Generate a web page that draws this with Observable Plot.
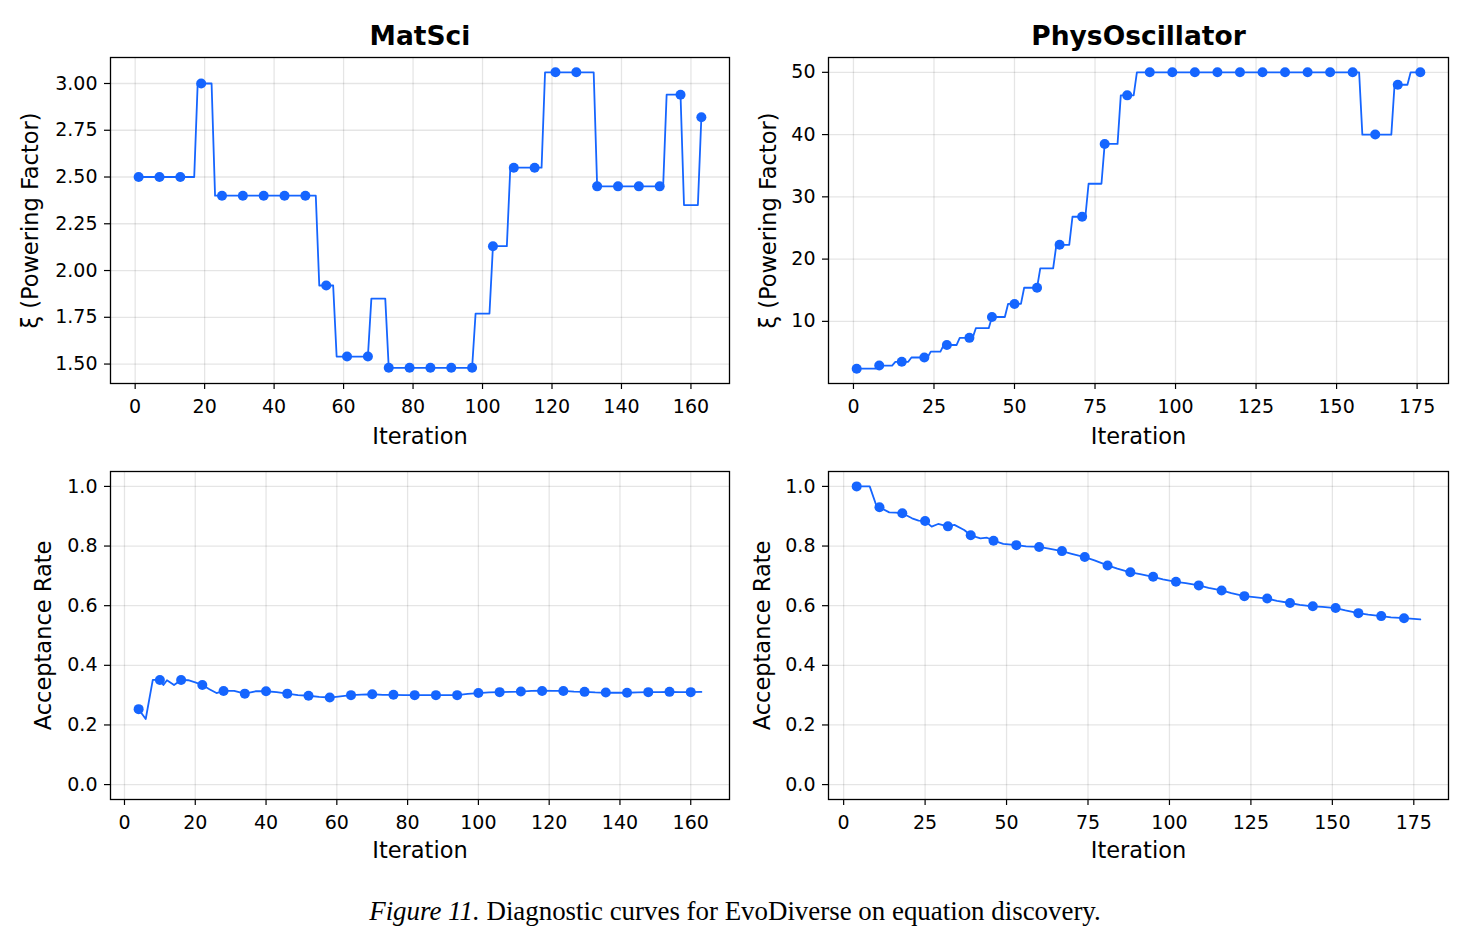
<!DOCTYPE html>
<html>
<head>
<meta charset="utf-8">
<script src="https://cdn.jsdelivr.net/npm/d3@7"></script>
<script src="https://cdn.jsdelivr.net/npm/@observablehq/plot@0.6"></script>
<style>
  body { margin: 0; background: #fff; width: 1470px; height: 942px; position: relative; overflow: hidden; }
  .panel { position: absolute; }
  .panel svg { overflow: visible; background: transparent !important; }
  #caption { position: absolute; left: 0; width: 1470px; top: 895px; text-align: center;
             font-family: "Liberation Serif", serif; font-size: 26.9px; line-height: 32px; color: #000; z-index: 5; }
</style>
</head>
<body>
<div id="tl" class="panel" style="left:0px; top:0px"></div>
<div id="tr" class="panel" style="left:735px; top:0px"></div>
<div id="bl" class="panel" style="left:0px; top:460px"></div>
<div id="br" class="panel" style="left:735px; top:460px"></div>
<div id="caption"><i>Figure 11.</i> Diagnostic curves for EvoDiverse on equation discovery.</div>
<script>
// ---- MatSci: powering factor ξ per iteration (step changes) ----
const matsciXiLine = [
  [1, 2.5], [17, 2.5], [18, 3.0], [22, 3.0], [23, 2.4], [52, 2.4], [53, 1.92], [57, 1.92],
  [58, 1.54], [67, 1.54], [68, 1.85], [72, 1.85], [73, 1.48], [97, 1.48], [98, 1.77],
  [102, 1.77], [103, 2.13], [107, 2.13], [108, 2.55], [117, 2.55], [118, 3.06], [132, 3.06],
  [133, 2.45], [152, 2.45], [153, 2.94], [157, 2.94], [158, 2.35], [162, 2.35], [163, 2.82]
];
const matsciXiMarkers = [
  [1, 2.5], [7, 2.5], [13, 2.5], [19, 3.0], [25, 2.4], [31, 2.4], [37, 2.4], [43, 2.4],
  [49, 2.4], [55, 1.92], [61, 1.54], [67, 1.54], [73, 1.48], [79, 1.48], [85, 1.48],
  [91, 1.48], [97, 1.48], [103, 2.13], [109, 2.55], [115, 2.55], [121, 3.06], [127, 3.06],
  [133, 2.45], [139, 2.45], [145, 2.45], [151, 2.45], [157, 2.94], [163, 2.82]
];

// ---- PhysOscillator: powering factor ξ per iteration ----
const physXiLine = [
  [1, 2.4], [7, 2.4], [8, 2.9], [12, 2.9], [13, 3.5], [17, 3.5], [18, 4.2], [23, 4.2],
  [24, 5.15], [27, 5.15], [28, 6.2], [32, 6.2], [33, 7.35], [37, 7.35], [38, 8.9], [42, 8.9],
  [43, 10.7], [47, 10.7], [48, 12.8], [52, 12.8], [53, 15.4], [57, 15.4], [58, 18.5],
  [62, 18.5], [63, 22.3], [67, 22.3], [68, 26.8], [72, 26.8], [73, 32.1], [77, 32.1],
  [78, 38.5], [82, 38.5], [83, 46.3], [87, 46.3], [88, 50], [157, 50], [158, 40], [167, 40],
  [168, 48], [172, 48], [173, 50], [176, 50]
];
const physXiMarkers = [
  [1, 2.4], [8, 2.9], [15, 3.5], [22, 4.2], [29, 6.2], [36, 7.35], [43, 10.7], [50, 12.8],
  [57, 15.4], [64, 22.3], [71, 26.8], [78, 38.5], [85, 46.3], [92, 50], [99, 50], [106, 50],
  [113, 50], [120, 50], [127, 50], [134, 50], [141, 50], [148, 50], [155, 50], [162, 40],
  [169, 48], [176, 50]
];

// ---- MatSci: acceptance rate ----
const matsciAccLine = [
  [4, 0.253], [6, 0.220], [8, 0.351], [10, 0.351], [11, 0.334], [12, 0.350], [14, 0.334],
  [16, 0.351], [18, 0.350], [20, 0.343], [22, 0.334], [24, 0.320], [26, 0.307], [28, 0.314],
  [31, 0.314], [34, 0.305], [37, 0.313], [40, 0.313], [43, 0.310], [46, 0.305], [49, 0.300],
  [52, 0.298], [55, 0.294], [58, 0.292], [61, 0.296], [64, 0.300], [67, 0.302], [70, 0.303],
  [73, 0.301], [76, 0.301], [79, 0.300], [82, 0.300], [85, 0.300], [88, 0.300], [91, 0.300],
  [94, 0.300], [97, 0.304], [100, 0.307], [103, 0.309], [106, 0.310], [109, 0.311],
  [112, 0.312], [115, 0.314], [118, 0.315], [121, 0.314], [124, 0.314], [127, 0.312],
  [130, 0.311], [133, 0.309], [136, 0.308], [139, 0.308], [142, 0.308], [145, 0.309],
  [148, 0.310], [151, 0.310], [154, 0.311], [157, 0.310], [160, 0.310], [163, 0.311]
];
const matsciAccMarkers = [
  [4, 0.253], [10, 0.351], [16, 0.351], [22, 0.334], [28, 0.314], [34, 0.305], [40, 0.313],
  [46, 0.305], [52, 0.298], [58, 0.292], [64, 0.300], [70, 0.303], [76, 0.301], [82, 0.300],
  [88, 0.300], [94, 0.300], [100, 0.307], [106, 0.310], [112, 0.312], [118, 0.314],
  [124, 0.314], [130, 0.311], [136, 0.309], [142, 0.308], [148, 0.310], [154, 0.311],
  [160, 0.310]
];

// ---- PhysOscillator: acceptance rate ----
const physAccLine = [
  [4, 1.0], [8, 1.0], [10, 0.937], [11, 0.930], [14, 0.913], [16, 0.912], [18, 0.910],
  [21, 0.893], [23, 0.885], [25, 0.884], [27, 0.865], [29, 0.874], [32, 0.866], [34, 0.871],
  [37, 0.854], [39, 0.836], [42, 0.826], [44, 0.828], [46, 0.818], [49, 0.807], [53, 0.803],
  [56, 0.799], [60, 0.797], [63, 0.791], [67, 0.783], [70, 0.774], [74, 0.763], [77, 0.752],
  [81, 0.735], [84, 0.724], [88, 0.712], [91, 0.706], [95, 0.697], [98, 0.688], [102, 0.680],
  [105, 0.676], [109, 0.668], [112, 0.660], [116, 0.651], [119, 0.642], [123, 0.632],
  [126, 0.629], [130, 0.624], [133, 0.616], [137, 0.609], [140, 0.603], [144, 0.598],
  [147, 0.596], [151, 0.592], [154, 0.584], [158, 0.575], [161, 0.570], [165, 0.565],
  [168, 0.561], [172, 0.558], [177, 0.554]
];
const physAccMarkers = [
  [4, 1.0], [11, 0.930], [18, 0.910], [25, 0.884], [32, 0.866], [39, 0.836], [46, 0.818],
  [53, 0.803], [60, 0.797], [67, 0.783], [74, 0.763], [81, 0.735], [88, 0.712], [95, 0.697],
  [102, 0.680], [109, 0.668], [116, 0.651], [123, 0.632], [130, 0.624], [137, 0.609],
  [144, 0.598], [151, 0.592], [158, 0.575], [165, 0.565], [172, 0.558]
];

// Tick positions
const ticks160 = [0, 20, 40, 60, 80, 100, 120, 140, 160];
const ticks175 = [0, 25, 50, 75, 100, 125, 150, 175];
const matsciXiTicks = [1.5, 1.75, 2.0, 2.25, 2.5, 2.75, 3.0];
const physXiTicks = [10, 20, 30, 40, 50];
const accTicks = [0, 0.2, 0.4, 0.6, 0.8, 1.0];

const BLUE = "#1565ff";
const FONT = "DejaVu Sans";
const TICK_FONT = 19;
const LABEL_FONT = 22.5;

function panel(o) {
  const chart = Plot.plot({
    width: o.width, height: o.height,
    marginLeft: o.ml, marginRight: o.mr, marginTop: o.mt, marginBottom: o.mb,
    style: { fontFamily: FONT, fontSize: TICK_FONT + "px", color: "#000", background: "transparent" },
    x: { domain: o.xDomain },
    y: { domain: o.yDomain },
    marks: [
      Plot.gridX(o.xTicks, { stroke: "#000", strokeOpacity: 0.1, strokeWidth: 1.3 }),
      Plot.gridY(o.yTicks, { stroke: "#000", strokeOpacity: 0.1, strokeWidth: 1.3 }),
      Plot.axisX(o.xTicks, { tickSize: 6, tickPadding: 10, label: null, fontSize: TICK_FONT, strokeWidth: 1.2 }),
      Plot.axisY(o.yTicks, { tickSize: 6, tickPadding: 7, label: null, fontSize: TICK_FONT, strokeWidth: 1.2,
                             tickFormat: o.yFormat }),
      Plot.line(o.line, { x: d => d[0], y: d => d[1], stroke: BLUE, strokeWidth: 1.8 }),
      Plot.dot(o.markers, { x: d => d[0], y: d => d[1], r: 5, fill: BLUE }),
      Plot.frame({ stroke: "#000", strokeWidth: 1.3 }),
      Plot.text(["Iteration"], { text: d => d, frameAnchor: "bottom", dy: o.xLabelDy,
                                 lineAnchor: "middle", textAnchor: "middle",
                                 fontSize: LABEL_FONT, fill: "#000" }),
      Plot.text([o.yLabel], { text: d => d, frameAnchor: "left", dx: o.yLabelDx, rotate: -90,
                              lineAnchor: "middle", textAnchor: "middle",
                              fontSize: LABEL_FONT, fill: "#000" }),
      o.title ? Plot.text([o.title], { text: d => d, frameAnchor: "top", dy: -21,
                                       lineAnchor: "middle", textAnchor: "middle",
                                       fontSize: 26.5, fontWeight: "bold", fill: "#000" }) : null
    ]
  });
  document.getElementById(o.el).appendChild(chart);
}

panel({ el: "tl", width: 735, height: 460, ml: 110, mr: 6, mt: 57, mb: 77,
        xDomain: [-7.1, 171.1], yDomain: [1.396, 3.139], xTicks: ticks160, yTicks: matsciXiTicks,
        yFormat: d3.format(".2f"), line: matsciXiLine, markers: matsciXiMarkers,
        title: "MatSci", yLabel: "ξ (Powering Factor)", xLabelDy: 53, yLabelDx: -80 });

panel({ el: "tr", width: 735, height: 460, ml: 93, mr: 22, mt: 57, mb: 77,
        xDomain: [-7.75, 184.75], yDomain: [0.02, 52.38], xTicks: ticks175, yTicks: physXiTicks,
        yFormat: d3.format("d"), line: physXiLine, markers: physXiMarkers,
        title: "PhysOscillator", yLabel: "ξ (Powering Factor)", xLabelDy: 53, yLabelDx: -60 });

panel({ el: "bl", width: 735, height: 440, ml: 110, mr: 6, mt: 11, mb: 101,
        xDomain: [-3.95, 170.95], yDomain: [-0.05, 1.05], xTicks: ticks160, yTicks: accTicks,
        yFormat: d3.format(".1f"), line: matsciAccLine, markers: matsciAccMarkers,
        title: null, yLabel: "Acceptance Rate", xLabelDy: 51, yLabelDx: -67 });

panel({ el: "br", width: 735, height: 440, ml: 93, mr: 22, mt: 11, mb: 101,
        xDomain: [-4.65, 185.65], yDomain: [-0.05, 1.05], xTicks: ticks175, yTicks: accTicks,
        yFormat: d3.format(".1f"), line: physAccLine, markers: physAccMarkers,
        title: null, yLabel: "Acceptance Rate", xLabelDy: 51, yLabelDx: -66 });
</script>
</body>
</html>
